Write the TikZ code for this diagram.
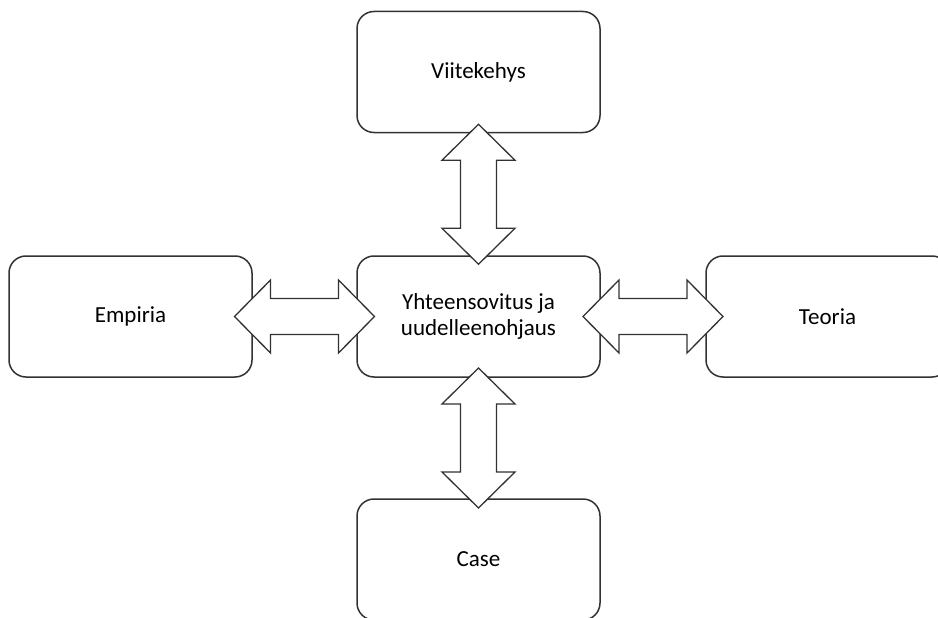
\documentclass[tikz,border=0pt]{standalone}
\usepackage{fontspec}
\setmainfont{Carlito}
\usetikzlibrary{calc}

\definecolor{edge}{RGB}{50,50,50}

\tikzset{
  box/.style={draw=edge, line width=1.5pt, rounded corners=17pt, fill=white,
    minimum width=243pt, minimum height=121pt, inner sep=0pt, align=center,
    font=\fontsize{23}{26.5}\selectfont, text=black},
  arrowline/.style={draw=edge, line width=1.3pt, fill=white, line join=miter},
  % two-headed block arrow, 140 long, centred on its origin
  dblarrow/.pic={
    \path[arrowline] (-70,0) -- (-34,-36.5) -- (-34,-18) -- (34,-18)
      -- (34,-36.5) -- (70,0) -- (34,36.5) -- (34,18) -- (-34,18)
      -- (-34,36.5) -- cycle;
  }
}

\begin{document}
\begin{tikzpicture}[x=1pt, y=-1pt]
  \useasboundingbox (0,0) rectangle (938,618);

  \node[box] (frame)  at (478.5, 72)    {Viitekehys};
  \node[box] (hub)    at (478.5, 316.5) {Yhteensovitus ja\\uudelleenohjaus};
  \node[box] (emp)    at (130.5, 316.5) {Empiria};
  \node[box] (theory) at (827.5, 316.5) {Teoria};
  \node[box] (case)   at (478.5, 559.5) {Case};

  \pic[rotate=90] at ($(frame.south)!0.5!(hub.north)$) {dblarrow};
  \pic at ($(emp.east)!0.5!(hub.west)$) {dblarrow};
  \pic at ($(hub.east)!0.5!(theory.west)$) {dblarrow};
  \pic[rotate=90] at ($(hub.south)!0.5!(case.north)$) {dblarrow};
\end{tikzpicture}
\end{document}
